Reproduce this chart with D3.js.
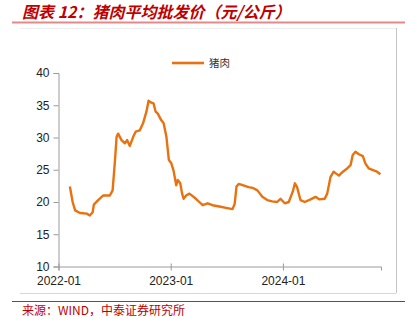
<!DOCTYPE html>
<html>
<head>
<meta charset="utf-8">
<script src="https://cdn.jsdelivr.net/npm/d3@7/dist/d3.min.js"></script>
<style>
  html, body { margin: 0; padding: 0; background: #fff; }
  svg { display: block; }
</style>
</head>
<body>
<svg id="chart" width="416" height="331"></svg>
<script>
// Pork average wholesale price, yuan per kg
const dates = [
  "2022-02-07","2022-02-16","2022-02-24","2022-03-12","2022-04-03","2022-04-13","2022-04-22","2022-04-26",
  "2022-05-10","2022-05-26","2022-06-17","2022-06-26","2022-07-03","2022-07-09","2022-07-14","2022-07-25",
  "2022-08-05","2022-08-12","2022-08-21","2022-09-01","2022-09-09","2022-09-22","2022-10-03","2022-10-14",
  "2022-10-21","2022-10-30","2022-11-06","2022-11-13","2022-11-20","2022-12-01","2022-12-09","2022-12-18",
  "2022-12-26","2023-01-03","2023-01-10","2023-01-19","2023-01-24","2023-02-01","2023-02-07","2023-02-12",
  "2023-02-20","2023-03-03","2023-03-24","2023-04-04","2023-04-15","2023-05-01","2023-05-17","2023-06-08",
  "2023-06-30","2023-07-21","2023-07-28","2023-08-03","2023-08-10","2023-08-23","2023-09-11","2023-09-24",
  "2023-10-10","2023-10-26","2023-11-11","2023-11-27","2023-12-13","2023-12-24","2024-01-07","2024-01-20",
  "2024-02-02","2024-02-09","2024-02-16","2024-02-27","2024-03-12","2024-03-31","2024-04-16","2024-04-29",
  "2024-05-16","2024-05-24","2024-06-04","2024-06-14","2024-06-22","2024-07-01","2024-07-14","2024-07-28",
  "2024-08-08","2024-08-15","2024-08-24","2024-09-04","2024-09-17","2024-09-25","2024-10-06","2024-10-22",
  "2024-11-02","2024-11-13"
];
const porkPrice = [
  22.4,20.0,18.7,18.3,18.2,17.9,18.4,19.6,
  20.3,21.0,21.0,21.8,26.0,30.1,30.6,29.6,
  29.1,29.6,28.7,30.1,30.9,31.1,32.2,34.0,
  35.7,35.4,35.3,34.0,33.7,32.7,32.2,30.1,
  26.5,26.0,24.9,22.6,23.4,22.9,21.3,20.5,
  21.0,21.3,20.5,20.0,19.5,19.8,19.5,19.3,
  19.1,18.9,19.7,22.4,22.8,22.6,22.3,22.2,
  21.8,20.8,20.3,20.1,20.0,20.5,19.8,20.0,
  21.6,22.9,22.3,20.3,20.0,20.4,20.8,20.4,
  20.5,21.3,23.9,24.7,24.4,24.1,24.7,25.2,
  25.7,27.3,27.8,27.4,27.1,26.0,25.2,24.9,
  24.7,24.3
];
const yTicks = [10, 15, 20, 25, 30, 35, 40];
const xTicks = ["2022-01-01", "2023-01-01", "2024-01-01"];
const seriesName = "猪肉";
const titleText = "图表 12：猪肉平均批发价（元/公斤）";
const sourceText = "来源：WIND，中泰证券研究所";

const parse = d3.timeParse("%Y-%m-%d");
const series = dates.map((d, i) => ({ date: parse(d), value: porkPrice[i] }));

const svg = d3.select("#chart");
const cjk = "'Noto Sans CJK SC', 'Noto Sans', sans-serif";
const latin = "'Liberation Sans', Arial, sans-serif";

// Title and header rule
svg.append("text")
  .attr("x", 22).attr("y", 18)
  .attr("fill", "#c00000")
  .style("font-family", cjk)
  .style("font-size", "16px")
  .style("font-weight", "bold")
  .style("font-style", "italic")
  .text(titleText);
svg.append("line")
  .attr("x1", 12).attr("x2", 405).attr("y1", 22.5).attr("y2", 22.5)
  .attr("stroke", "#e28a8a").attr("stroke-width", 2);

// Chart frame
const frame = svg.append("g").attr("stroke", "#d6d6d6").attr("fill", "none");
frame.append("line").attr("x1", 20).attr("x2", 396).attr("y1", 28.5).attr("y2", 28.5).attr("stroke", "#eeeeee");
frame.append("line").attr("x1", 396.5).attr("x2", 396.5).attr("y1", 28).attr("y2", 293).attr("stroke", "#c4c4c4");
frame.append("line").attr("x1", 20).attr("x2", 396).attr("y1", 293.5).attr("y2", 293.5);

// Scales
const x = d3.scaleTime()
  .domain([parse("2022-01-01"), parse("2024-11-15")])
  .range([58.5, 381]);
const y = d3.scaleLinear().domain([10, 40]).range([266.5, 73]);

// Y axis
const yAxis = svg.append("g")
  .attr("transform", "translate(58.5,0)")
  .call(d3.axisLeft(y).tickValues(yTicks).tickSize(5).tickPadding(4).tickFormat(d3.format("d")));
// X axis
const xAxis = svg.append("g")
  .attr("transform", "translate(0,266.5)")
  .call(d3.axisBottom(x).tickValues(xTicks.map(parse)).tickSize(4).tickPadding(6).tickFormat(d3.timeFormat("%Y-%m")));

[yAxis, xAxis].forEach(g => {
  g.select(".domain").attr("stroke", "#9a9a9a");
  g.selectAll(".tick line").attr("stroke", "#9a9a9a");
  g.selectAll(".tick text")
    .attr("fill", "#222")
    .style("font-family", latin)
    .style("font-size", "12px");
});
// Small upward tick stubs on the time axis
xAxis.selectAll(".tick").append("line").attr("y1", 0).attr("y2", -3).attr("stroke", "#9a9a9a");

// Price line
const line = d3.line().x(d => x(d.date)).y(d => y(d.value)).curve(d3.curveLinear);
svg.append("path")
  .datum(series)
  .attr("fill", "none")
  .attr("stroke", "#e8720f")
  .attr("stroke-width", 2.4)
  .attr("stroke-linejoin", "round")
  .attr("d", line);

// Legend
svg.append("line")
  .attr("x1", 172).attr("x2", 204).attr("y1", 63).attr("y2", 63)
  .attr("stroke", "#e8720f").attr("stroke-width", 2.6);
svg.append("text")
  .attr("x", 209).attr("y", 67)
  .attr("fill", "#333")
  .style("font-family", cjk)
  .style("font-size", "10.5px")
  .text(seriesName);

// Source rule and note
svg.append("line")
  .attr("x1", 12).attr("x2", 405).attr("y1", 301.5).attr("y2", 301.5)
  .attr("stroke", "#c8202a").attr("stroke-width", 1);
svg.append("text")
  .attr("x", 22).attr("y", 315)
  .attr("fill", "#c00000")
  .style("font-family", cjk)
  .style("font-size", "12px")
  .text(sourceText);
</script>
</body>
</html>
